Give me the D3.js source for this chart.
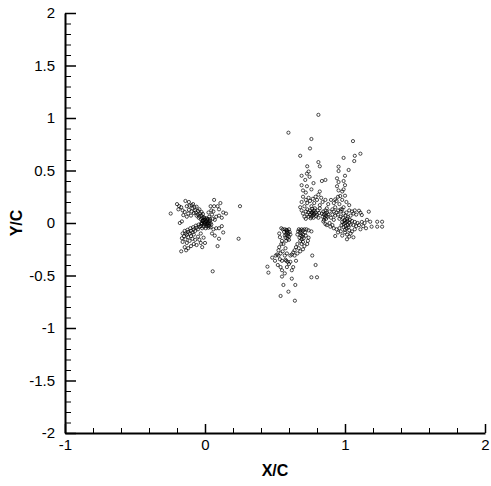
<!DOCTYPE html>
<meta charset="utf-8">
<style>
body { margin: 0; background: #fff; }
svg { font-family: "Liberation Sans", Arial, Helvetica, sans-serif; }
.pts circle { fill: none; stroke: #000; stroke-width: 0.7px; }
.axis path { stroke: #000; stroke-width: 2px; }
.axis line { stroke: #000; stroke-width: 1.5px; }
.minor line { stroke: #000; stroke-width: 1px; }
.minor path { display: none; }
.axis text { font-size: 15px; fill: #000; }
.title { font-size: 16px; font-weight: bold; }
</style>

<svg width="491" height="486"></svg>
<script src="https://d3js.org/d3.v7.min.js"></script>

<script>

// axis ticks
let xTicks = [-1, 0, 1, 2];
let yTicks = [-2, -1.5, -1, -0.5, 0, 0.5, 1, 1.5, 2];
let xMinor = [-0.8, -0.6, -0.4, -0.2, 0.2, 0.4, 0.6, 0.8, 1.2, 1.4, 1.6, 1.8];
let yMinor = [-1.9, -1.8, -1.7, -1.6, -1.4, -1.3, -1.2, -1.1, -0.9, -0.8, -0.7, -0.6,
              -0.4, -0.3, -0.2, -0.1, 0.1, 0.2, 0.3, 0.4, 0.6, 0.7, 0.8, 0.9,
              1.1, 1.2, 1.3, 1.4, 1.6, 1.7, 1.8, 1.9];

// points near the leading edge (x ~ 0)
let leftCluster = [
  [-0.14,0.21],[-0.115,0.2],[-0.11,0.165],[-0.095,0.17],[-0.09,0.14],[-0.075,0.15],[-0.07,0.12],
  [-0.065,0.10],[-0.05,0.115],[-0.05,0.08],[-0.035,0.09],[-0.04,0.065],[-0.025,0.07],[-0.02,0.045],
  [-0.01,0.055],[-0.01,0.03],[-0.13,0.16],[-0.115,0.125],[-0.095,0.11],[-0.08,0.095],[-0.06,0.07],
  [-0.045,0.05],[-0.03,0.035],[-0.02,0.02],[-0.085,0.18],[-0.06,0.155],[-0.04,0.13],[-0.025,0.105],
  [-0.015,0.085],
  [-0.245,0.09],[-0.20,0.18],[-0.185,0.16],[-0.17,0.15],[-0.19,0.13],[-0.16,0.12],[-0.145,0.105],
  [-0.155,0.075],[-0.13,0.06],[-0.18,0.0],[-0.165,0.015],[-0.12,0.09],[-0.10,0.07],
  [-0.16,-0.10],[-0.145,-0.075],[-0.14,-0.10],[-0.125,-0.065],[-0.12,-0.085],[-0.105,-0.05],
  [-0.10,-0.075],[-0.085,-0.04],[-0.08,-0.06],[-0.065,-0.025],[-0.06,-0.045],[-0.045,-0.015],
  [-0.04,-0.035],[-0.025,-0.01],[-0.15,-0.125],[-0.13,-0.11],[-0.11,-0.10],[-0.09,-0.09],
  [-0.07,-0.075],[-0.05,-0.06],[-0.165,-0.145],[-0.14,-0.155],[-0.12,-0.135],[-0.10,-0.125],[-0.08,-0.11],
  [-0.17,-0.27],[-0.135,-0.26],[-0.145,-0.23],[-0.12,-0.24],[-0.10,-0.22],[-0.08,-0.20],
  [-0.06,-0.21],[-0.04,-0.16],[-0.02,-0.23],[-0.13,-0.19],[-0.11,-0.17],[-0.09,-0.15],
  [-0.07,-0.16],[-0.05,-0.13],[-0.03,-0.10],[-0.16,-0.18],[-0.03,-0.19],[-0.01,-0.14],[0.0,-0.19],
  [0,0],[0.01,0.01],[-0.01,0.005],[0.02,0.0],[0.015,-0.01],[-0.005,-0.015],[0.005,0.02],
  [-0.015,0.02],[0.025,0.015],[0.03,-0.005],[-0.02,-0.005],[0.01,-0.03],[-0.01,-0.035],
  [0.02,-0.025],[0.0,0.035],[0.035,0.02],[-0.025,0.0],[0.04,0.0],[0.03,-0.03],[-0.03,-0.03],
  [0.005,-0.05],[0.02,0.04],[0.045,-0.015],[-0.005,0.05],[0.015,0.03],[0.025,-0.045],
  [-0.02,-0.05],[0.01,0.045],[0.035,0.035],[0.005,-0.01],
  [0.065,0.22],[0.04,0.16],[0.06,0.11],[0.065,0.16],[0.09,0.16],[0.10,0.13],[0.13,0.10],
  [0.15,0.09],[0.12,0.05],[0.08,0.06],[0.07,0.03],[0.05,0.08],[0.03,0.06],[0.025,0.10],
  [0.045,0.12],[0.11,0.19],[0.25,0.16],[0.10,0.07],[0.055,0.04],
  [0.08,-0.05],[0.10,-0.05],[0.13,-0.09],[0.10,-0.15],[0.09,-0.22],[0.06,-0.06],[0.05,-0.10],
  [0.07,-0.12],[0.04,-0.04],[0.24,-0.15],[0.055,-0.46],[0.12,-0.03]
];

// points below the chord (x ~ 0.45 to 0.8)
let lowerCluster = [
  [0.57,-0.06],[0.58,-0.07],[0.59,-0.08],[0.60,-0.06],[0.585,-0.09],[0.595,-0.10],[0.58,-0.11],
  [0.59,-0.12],[0.60,-0.13],[0.575,-0.14],[0.565,-0.085],[0.605,-0.085],[0.59,-0.15],[0.57,-0.12],
  [0.61,-0.11],[0.585,-0.065],[0.555,-0.06],[0.60,-0.16],[0.58,-0.17],
  [0.545,-0.05],[0.53,-0.10],[0.535,-0.135],[0.55,-0.17],[0.545,-0.20],[0.53,-0.23],[0.525,-0.26],
  [0.515,-0.30],[0.505,-0.31],[0.525,-0.31],[0.535,-0.345],[0.55,-0.36],[0.56,-0.20],[0.575,-0.24],
  [0.585,-0.29],[0.57,-0.31],[0.575,-0.35],[0.59,-0.37],[0.585,-0.42],[0.555,-0.27],[0.54,-0.29],
  [0.67,-0.06],[0.68,-0.07],[0.69,-0.06],[0.70,-0.07],[0.68,-0.09],[0.69,-0.10],[0.70,-0.11],
  [0.685,-0.12],[0.695,-0.13],[0.675,-0.14],[0.705,-0.145],[0.69,-0.155],[0.665,-0.08],
  [0.715,-0.09],[0.72,-0.12],[0.68,-0.17],[0.70,-0.18],[0.66,-0.11],[0.71,-0.06],[0.725,-0.06],
  [0.74,-0.07],[0.76,-0.08],
  [0.66,-0.20],[0.65,-0.23],[0.64,-0.26],[0.63,-0.28],[0.62,-0.30],[0.61,-0.31],[0.67,-0.24],
  [0.68,-0.27],[0.69,-0.20],[0.66,-0.29],[0.64,-0.31],[0.70,-0.25],[0.71,-0.22],[0.73,-0.20],
  [0.735,-0.17],[0.74,-0.14],
  [0.446,-0.416],[0.453,-0.473],[0.54,-0.695],[0.596,-0.654],[0.56,-0.59],[0.62,-0.53],
  [0.645,-0.59],[0.642,-0.74],[0.76,-0.517],[0.80,-0.517],[0.79,-0.40],[0.766,-0.31],
  [0.55,-0.45],[0.55,-0.51],[0.61,-0.37],[0.60,-0.39],[0.58,-0.36],[0.50,-0.36],[0.52,-0.40],
  [0.48,-0.33],[0.63,-0.42],[0.62,-0.45],[0.65,-0.36],[0.57,-0.48],[0.54,-0.42]
];

// scattered points above the chord
let upperCluster = [
  [0.81,1.03],[0.596,0.86],[0.76,0.80],[0.75,0.71],[1.057,0.78],[0.68,0.64],[0.81,0.58],
  [0.82,0.54],[0.73,0.54],[1.07,0.64],[1.11,0.66],[1.066,0.59],[0.99,0.62],[0.954,0.536],
  [0.954,0.495],[1.026,0.505],[1.0,0.45],[0.74,0.49],[0.728,0.47],[0.747,0.44],[0.69,0.45],
  [0.716,0.41],[0.69,0.36],[0.728,0.35],[0.70,0.31],[0.72,0.29],[0.76,0.32],[0.775,0.38],
  [0.835,0.40],[0.86,0.41],[0.82,0.30],[0.81,0.27],[0.943,0.425],[0.954,0.39],[0.99,0.40],
  [1.0,0.36],[0.99,0.32],[0.98,0.30],[0.954,0.31],[0.943,0.35],[0.966,0.257],[0.93,0.225],
  [0.70,0.25],[0.72,0.22],[0.74,0.24],[0.69,0.20],[0.73,0.19],[0.75,0.21],[0.77,0.23],
  [0.78,0.19],[0.80,0.22],[0.79,0.25],[0.83,0.24],[0.84,0.20],[0.86,0.22],[0.82,0.17],
  [0.76,0.16],[0.71,0.16],[0.68,0.15],[0.88,0.18],[0.90,0.22],[0.92,0.19],[0.94,0.21],
  [0.96,0.18],[0.98,0.22],[0.95,0.25],[0.99,0.15],[0.97,0.13],[0.93,0.15],[0.91,0.13],
  [1.01,0.20],[1.03,0.17],[1.0,0.26]
];

// two dense patches in the middle (x ~ 0.77 and 0.86)
let middleCluster = [
  [0.74,0.10],[0.75,0.12],[0.76,0.10],[0.77,0.11],[0.78,0.09],[0.77,0.07],[0.76,0.06],
  [0.78,0.12],[0.79,0.10],[0.80,0.08],[0.75,0.08],[0.74,0.06],[0.73,0.08],[0.72,0.11],
  [0.765,0.135],[0.785,0.14],[0.795,0.065],[0.81,0.05],[0.775,0.05],[0.755,0.045],[0.73,0.13],
  [0.805,0.12],[0.815,0.095],[0.70,0.09],[0.71,0.06],[0.69,0.12],[0.72,0.04],[0.82,0.14],
  [0.775,0.085],[0.765,0.095],
  [0.85,0.08],[0.86,0.09],[0.865,0.07],[0.855,0.05],[0.87,0.10],[0.845,0.11],[0.86,0.12],
  [0.875,0.06],[0.85,0.03],[0.865,0.04],[0.88,0.08],[0.84,0.06],[0.835,0.09],[0.89,0.11],
  [0.90,0.05],[0.91,0.08],[0.92,0.03],[0.87,0.14],[0.845,0.015]
];

// points near the trailing edge (x ~ 1)
let rightCluster = [
  [1.0,0.0],[1.01,0.01],[0.99,-0.01],[1.02,-0.02],[1.0,0.03],[1.015,0.04],[0.995,0.02],
  [1.005,-0.03],[0.99,-0.04],[1.02,0.02],[1.03,0.0],[0.98,0.01],[1.01,-0.05],[1.025,-0.04],
  [0.985,0.05],[1.0,-0.065],[1.02,0.06],[0.975,-0.02],[1.035,0.03],[1.04,-0.015],[1.005,0.07],
  [0.99,0.09],[1.01,0.10],[1.0,-0.09],[1.015,-0.11],
  [0.97,0.06],[0.95,0.08],[0.94,0.10],[0.92,0.11],[0.96,0.04],[0.93,0.07],[0.95,0.12],
  [0.97,0.11],[0.98,0.13],
  [1.04,0.07],[1.06,0.09],[1.05,0.11],[1.07,0.12],[1.03,0.12],[1.08,0.08],[1.10,0.117],
  [1.11,0.098],[1.12,0.076],
  [1.05,0.02],[1.07,0.01],[1.09,0.0],[1.06,-0.02],[1.08,-0.03],[1.10,-0.02],[1.12,0.01],
  [1.14,0.0],[1.13,-0.03],[1.17,0.108],[1.157,0.03],[1.18,0.012],[1.19,-0.035],[1.23,0.012],
  [1.265,0.012],[1.23,-0.035],[1.265,-0.035],[1.15,-0.05],[1.11,-0.06],
  [1.03,-0.07],[1.05,-0.08],[1.07,-0.06],[1.04,-0.10],[1.06,-0.136],[1.03,-0.13],
  [0.87,-0.02],[0.895,-0.035],[0.92,-0.05],[0.94,-0.06],[0.96,-0.05],[0.97,-0.08],[0.95,-0.09],
  [0.93,-0.124],[1.014,-0.155],[0.98,-0.12],[0.91,-0.02],[0.89,0.0],[0.86,-0.01]
];

let svg = d3.select("svg");

let x = d3.scaleLinear().domain([-1, 2]).range([65, 485]);
let y = d3.scaleLinear().domain([-2, 2]).range([433, 13]);

let fmt = d => String(d);

// minor ticks first, under the main axes
svg.append("g").attr("class", "minor")
  .attr("transform", "translate(65,0)")
  .call(d3.axisLeft(y).tickValues(yMinor).tickSizeInner(-6).tickSizeOuter(0).tickFormat(""));
svg.append("g").attr("class", "minor")
  .attr("transform", "translate(0,433)")
  .call(d3.axisBottom(x).tickValues(xMinor).tickSizeInner(-5).tickSizeOuter(0).tickFormat(""));

svg.append("g").attr("class", "axis")
  .attr("transform", "translate(65,0)")
  .call(d3.axisLeft(y).tickValues(yTicks).tickSizeInner(-11).tickSizeOuter(0)
    .tickPadding(10).tickFormat(fmt));

svg.append("g").attr("class", "axis")
  .attr("transform", "translate(0,433)")
  .call(d3.axisBottom(x).tickValues(xTicks).tickSizeInner(-9).tickSizeOuter(0)
    .tickPadding(6).tickFormat(fmt));

svg.append("text").attr("class", "title")
  .attr("x", x(0.5)).attr("y", 476)
  .attr("text-anchor", "middle")
  .text("X/C");

svg.append("text").attr("class", "title")
  .attr("transform", "translate(22," + y(0) + ") rotate(-90)")
  .attr("text-anchor", "middle")
  .text("Y/C");

let allPoints = [].concat(leftCluster, lowerCluster, upperCluster, middleCluster, rightCluster);

svg.append("g").attr("class", "pts")
  .selectAll("circle")
  .data(allPoints)
  .enter().append("circle")
  .attr("cx", d => x(d[0]))
  .attr("cy", d => y(d[1]))
  .attr("r", 1.6);

</script>
